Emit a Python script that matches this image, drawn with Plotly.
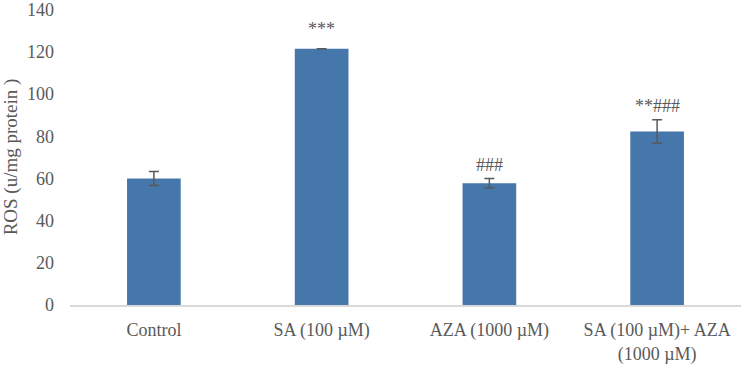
import plotly.graph_objects as go

categories = ["Control", "SA (100 µM)", "AZA (1000 µM)", "SA (100 µM)+ AZA<br>(1000 µM)"]
values = [60.0, 121.5, 57.8, 82.3]
errors = [3.3, 0.0, 2.2, 5.6]
marks = ["", "***", "###", "**###"]

font_family = "Liberation Serif, Times New Roman, serif"
grey = "#595959"

fig = go.Figure()
fig.add_trace(go.Bar(
    x=categories, y=values,
    marker=dict(color="#4677AA", line=dict(width=0)),
    error_y=dict(type="data", array=[e if e > 0 else None for e in errors], visible=True,
                 color="#595959", thickness=1.5, width=5),
))

for c, v, e, m in zip(categories, values, errors, marks):
    if m:
        shift = 8 if e == 0 else 2
        fig.add_annotation(x=c, y=v + e, text=m, showarrow=False, yanchor="bottom",
                           yshift=shift, font=dict(family=font_family, size=18, color=grey))

fig.update_layout(
    width=741, height=365,
    margin=dict(l=70, r=0, t=6, b=57),
    paper_bgcolor="white", plot_bgcolor="white",
    showlegend=False,
    bargap=0.68,
    font=dict(family=font_family, size=19, color=grey),
    xaxis=dict(showline=True, linecolor="#d9d9d9", linewidth=1.5, ticks="",
               tickfont=dict(size=18, color=grey), showgrid=False, ticklabelstandoff=8),
    yaxis=dict(range=[0, 140.4], tickvals=[0, 20, 40, 60, 80, 100, 120, 140],
               showgrid=False, zeroline=False, showline=False, ticklabeloverflow="allow",
               tickfont=dict(size=18, color=grey), ticks="", ticklabelstandoff=15,
               title=dict(text="ROS (u/mg protein )", font=dict(size=19, color=grey), standoff=4)),
)

fig.write_html("out.html")
